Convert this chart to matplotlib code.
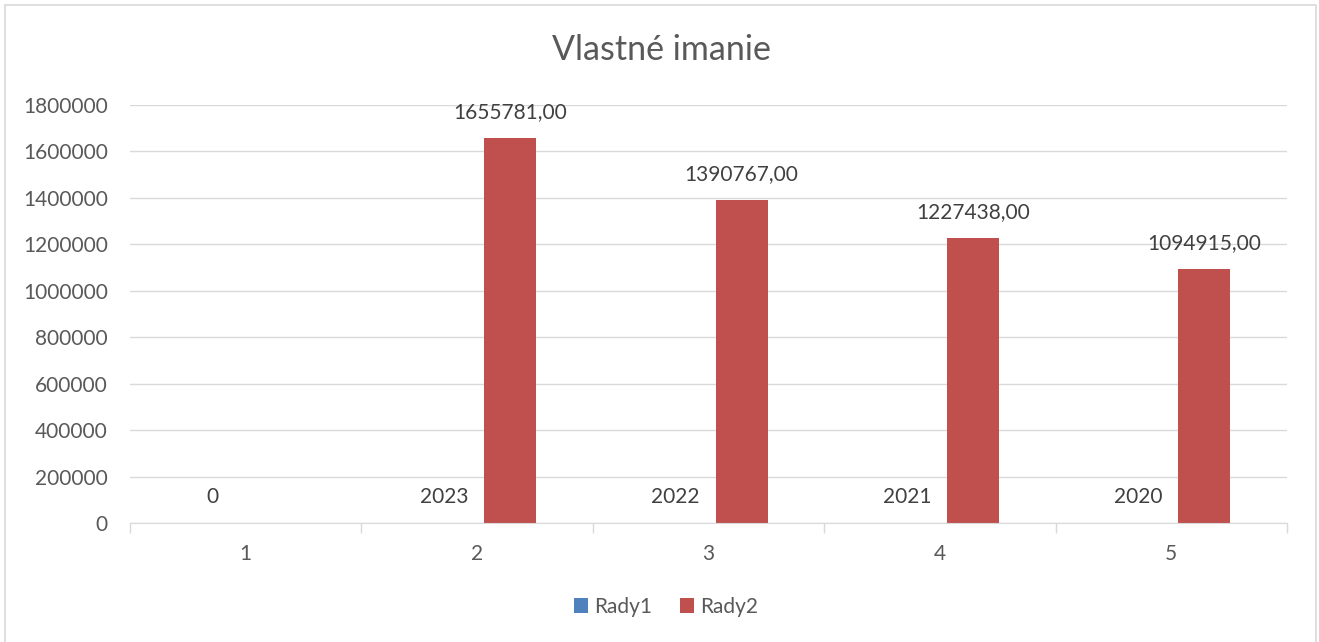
import matplotlib.pyplot as plt
import matplotlib.patches as mpatches
import numpy as np

categories = ['1', '2', '3', '4', '5']
rady1 = [0, 2023, 2022, 2021, 2020]
rady2 = [np.nan, 1655781, 1390767, 1227438, 1094915]

plt.rcParams['font.family'] = ['Lato', 'DejaVu Sans']

W, H = 1319, 642
fig = plt.figure(figsize=(W / 100, H / 100), dpi=100)
fig.patch.set_facecolor('white')
ax = fig.add_axes([130 / W, 1 - 523 / H, (1287 - 130) / W, (523 - 105) / H])

# chart border (bottom edge runs off the image)
fig.patches.append(mpatches.Rectangle((5 / W, -20 / H), (1316 - 5) / W, (637 + 20) / H,
                                      transform=fig.transFigure, fill=False,
                                      edgecolor='#D9D9D9', linewidth=1.2))

x = np.arange(len(categories))
bw = 0.225
off = 0.143
ax.bar(x - off, rady1, bw, color='#4F81BD', label='Rady1', zorder=3)
ax.bar(x + off, rady2, bw, color='#C0504D', label='Rady2', zorder=3)

fs = 15
for xi, v in zip(x - off, rady1):
    ax.annotate(f'{v}', (xi, v), xytext=(0, 18.7), textcoords='offset points',
                ha='center', va='center', fontsize=fs, color='#404040')
for xi, v in zip(x + off, rady2):
    if np.isnan(v):
        continue
    ax.annotate(f'{v:.2f}'.replace('.', ','), (xi, v), xytext=(0, 18.7),
                textcoords='offset points', ha='center', va='center',
                fontsize=fs, color='#404040')

ax.set_xlim(-0.5, len(categories) - 0.5)
ax.set_ylim(0, 1800000)
ax.set_yticks(np.arange(0, 1800001, 200000))
ax.set_yticklabels([str(v) for v in range(0, 1800001, 200000)])
ax.set_xticks(x)
ax.set_xticklabels(categories)
ax.set_xticks(np.arange(-0.5, len(categories)), minor=True)

ax.grid(axis='y', color='#D9D9D9', linewidth=1, zorder=0)
for s in ['top', 'right', 'left']:
    ax.spines[s].set_visible(False)
ax.spines['bottom'].set_color('#D9D9D9')
ax.spines['bottom'].set_zorder(4)
ax.tick_params(axis='y', length=0, pad=16, labelsize=fs, labelcolor='#595959')
ax.tick_params(axis='x', which='major', length=0, pad=15, labelsize=fs,
               labelcolor='#595959')
ax.tick_params(axis='x', which='minor', length=7, color='#D9D9D9', width=1)

fig.text(661 / W, 1 - 50 / H, 'Vlastné imanie', ha='center', va='center',
         fontsize=24.5, color='#595959')

ax.legend(loc='center', bbox_to_anchor=(666 / W, 1 - 607 / H),
          bbox_transform=fig.transFigure, ncol=2, frameon=False,
          fontsize=fs, labelcolor='#595959', handlelength=0.7,
          handleheight=0.7, handletextpad=0.3, columnspacing=1.3)

fig.savefig('out.png', dpi=100)
